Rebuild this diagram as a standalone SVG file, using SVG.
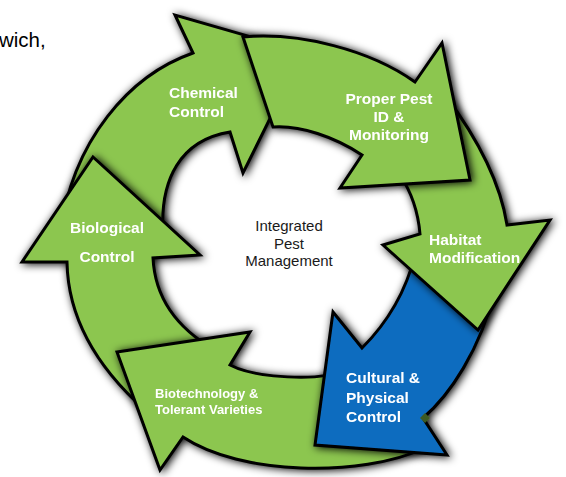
<svg xmlns="http://www.w3.org/2000/svg" width="566" height="477" viewBox="0 0 566 477">
  <defs>
    <filter id="halo" x="-20%" y="-20%" width="140%" height="140%">
      <feGaussianBlur in="SourceAlpha" stdDeviation="4" result="blur"/>
      <feOffset in="blur" dx="2" dy="1" result="off"/>
      <feComponentTransfer in="off" result="shadow">
        <feFuncA type="linear" slope="1"/>
      </feComponentTransfer>
      <feMerge>
        <feMergeNode in="shadow"/>
        <feMergeNode in="SourceGraphic"/>
      </feMerge>
    </filter>
  </defs>
  <style>
    .arrow { fill: #8cc64f; stroke: #000; stroke-width: 3; stroke-linejoin: miter; }
    .blue { fill: #0e6cbf; }
    .lbl { font-family: "Liberation Sans", Arial, sans-serif; font-weight: bold; font-size: 15.5px; fill: #fff; }
    .small { font-size: 13px; }
    .center { font-family: "Liberation Sans", Arial, sans-serif; font-size: 15px; fill: #1a1a1a; text-anchor: middle; }
    .mid { text-anchor: middle; }
  </style>

  <rect width="566" height="477" fill="#fff"/>
  <text x="-1" y="47" font-family="Liberation Sans, Arial, sans-serif" font-size="20.5" fill="#000">wich,</text>

  <g id="chemical-control" filter="url(#halo)">
    <path class="arrow" d="M60,235 C72,140 130,75 193,53 L175,15 L303,52 L243,173 L230,132 C180,140 160,180 163,232 Z"/>
    <text class="lbl" x="169" y="98">Chemical</text>
    <text class="lbl" x="169" y="117">Control</text>
  </g>

  <g id="biological-control" filter="url(#halo)">
    <path class="arrow" d="M93,157 L200,255 L153,258 C155,300 180,330 215,350 L145,410 C100,370 68,320 67,262 L22,262 Z"/>
    <text class="lbl mid" x="107" y="233">Biological</text>
    <text class="lbl mid" x="107" y="262">Control</text>
  </g>

  <g id="biotech-tolerant-varieties" filter="url(#halo)">
    <path class="arrow" d="M117,352 L250,332 L230,365 C255,378 320,382 345,370 L425,448 C360,478 240,475 183,437 L160,470 Z"/>
    <text class="lbl small" x="155" y="398">Biotechnology &amp;</text>
    <text class="lbl small" x="155" y="414">Tolerant Varieties</text>
  </g>

  <g id="cultural-physical-control" filter="url(#halo)">
    <path class="arrow blue" d="M415,255 L495,290 C480,350 450,395 423,418 L447,455 L315,445 L333,312 L362,348 C385,325 405,295 415,255 Z"/>
    <path d="M420,418 L425,413 L430,418 L425,423 Z" fill="#3d5a22"/>
    <text class="lbl" x="346" y="383">Cultural &amp;</text>
    <text class="lbl" x="346" y="403">Physical</text>
    <text class="lbl" x="346" y="422">Control</text>
  </g>

  <g id="habitat-modification" filter="url(#halo)">
    <path class="arrow" d="M445,95 C475,135 500,180 507,225 L550,220 L478,330 L383,245 L420,234 C418,210 410,190 400,175 Z"/>
    <text class="lbl" x="429" y="245">Habitat</text>
    <text class="lbl" x="429" y="263">Modification</text>
  </g>

  <g id="proper-pest-id-monitoring" filter="url(#halo)">
    <path class="arrow" d="M243,37 C300,32 370,50 415,82 L442,43 L470,180 L340,188 L362,155 C335,137 300,125 273,127 Z"/>
    <text class="lbl mid" x="389" y="104">Proper Pest</text>
    <text class="lbl mid" x="389" y="122">ID &amp;</text>
    <text class="lbl mid" x="389" y="140">Monitoring</text>
  </g>

  <g id="ipm-center">
    <text class="center" x="289" y="231">Integrated</text>
    <text class="center" x="289" y="248.5">Pest</text>
    <text class="center" x="289" y="266">Management</text>
  </g>
</svg>
